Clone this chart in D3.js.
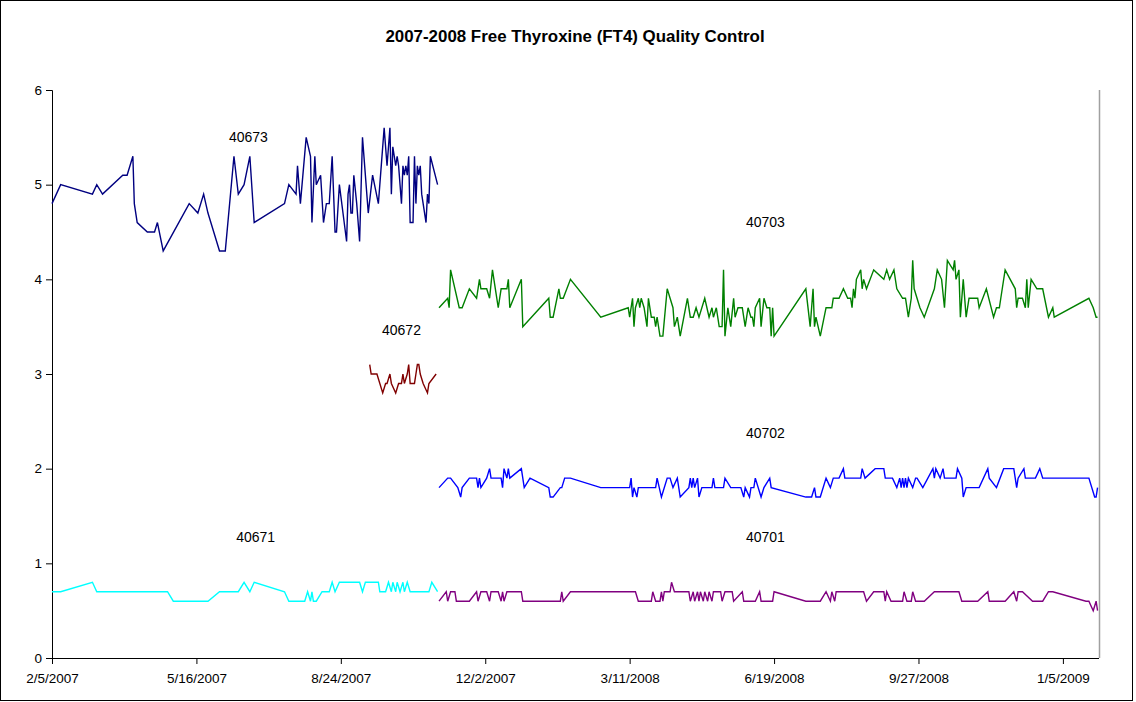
<!DOCTYPE html>
<html>
<head>
<meta charset="utf-8">
<script src="https://cdn.jsdelivr.net/npm/d3@7/dist/d3.min.js"></script>
<style>
  html, body { margin: 0; padding: 0; background: #fff; }
  svg { display: block; font-family: "Liberation Sans", Arial, sans-serif; }
</style>
</head>
<body>
<svg id="chart" width="1136" height="702"></svg>
<script>
// ---------------- DATA ----------------
// Dates are day numbers counted from the first QC run (2/5/2007).
const startDate = "2007-02-05";
const endDate = "2009-01-30";
const chartTitle = "2007-2008 Free Thyroxine (FT4) Quality Control";
const xTickDays = [0, 100, 200, 300, 400, 500, 600, 700];
const xTickLabels = ["2/5/2007", "5/16/2007", "8/24/2007", "12/2/2007", "3/11/2008", "6/19/2008", "9/27/2008", "1/5/2009"];
const yTicks = [0, 1, 2, 3, 4, 5, 6];

const lot40673 = [[0,4.8],[6,5.0],[28,4.9],[31,5.0],[35,4.9],[49,5.1],[52,5.1],[56,5.3],[57,4.8],[59,4.6],[66,4.5],[71,4.5],[73,4.6],[77,4.3],[95,4.8],[101,4.7],[105,4.9],[108,4.7],[116,4.3],[120,4.3],[126,5.3],[129,4.9],[133,5.0],[137,5.3],[140,4.6],[161,4.8],[164,5.0],[169,4.9],[170,5.2],[172,4.8],[176,5.5],[179,5.3],[180,4.6],[182,5.3],[183,5.0],[186,5.1],[188,4.6],[190,4.8],[192,4.8],[194,5.3],[196,4.5],[197,4.5],[199,5.0],[204,4.4],[205,4.9],[206,5.0],[207,4.7],[208,4.7],[209,5.1],[211,4.8],[213,4.4],[215,5.5],[219,4.7],[222,5.1],[226,4.8],[230,5.6],[232,5.2],[234,5.6],[235,4.9],[236,5.4],[237,5.3],[238,5.2],[239,5.3],[240,5.2],[242,4.8],[243,5.2],[244,5.1],[245,5.2],[246,5.1],[247,5.3],[248,4.6],[250,4.6],[251,5.3],[252,4.8],[253,5.2],[254,5.1],[255,5.2],[256,4.9],[259,4.6],[260,4.9],[261,4.8],[262,5.3],[267,5.0]];

const lot40672 = [[220,3.1],[221,3.0],[225,3.0],[229,2.8],[231,2.9],[232,2.9],[234,3.0],[235,2.9],[238,2.8],[240,2.9],[242,2.9],[243,3.0],[244,2.9],[246,3.0],[247,3.1],[248,2.9],[251,2.9],[252,3.0],[253,3.1],[254,3.1],[255,3.0],[257,2.9],[260,2.8],[261,2.9],[266,3.0]];

const lot40671 = [[0,0.7],[6,0.7],[28,0.8],[31,0.7],[80,0.7],[84,0.6],[108,0.6],[116,0.7],[129,0.7],[133,0.8],[137,0.7],[140,0.8],[161,0.7],[164,0.6],[175,0.6],[177,0.7],[179,0.6],[180,0.7],[181,0.6],[183,0.6],[187,0.7],[192,0.7],[194,0.8],[196,0.7],[199,0.8],[213,0.8],[215,0.7],[217,0.8],[226,0.8],[227,0.7],[231,0.7],[233,0.8],[235,0.7],[236,0.8],[238,0.7],[239,0.8],[241,0.7],[243,0.8],[244,0.7],[246,0.8],[248,0.7],[261,0.7],[263,0.8],[267,0.7]];

const lot40703 = [[268,3.7],[274,3.8],[275,3.7],[276,4.1],[282,3.7],[284,3.7],[289,3.9],[294,3.8],[296,4.0],[297,3.9],[301,3.9],[303,3.8],[305,4.1],[307,3.9],[309,3.7],[311,3.9],[315,3.9],[316,4.0],[317,3.7],[325,4.0],[326,3.5],[344,3.8],[345,3.6],[347,3.6],[351,3.9],[352,3.8],[354,3.8],[359,4.0],[380,3.6],[399,3.7],[400,3.6],[402,3.8],[403,3.5],[404,3.7],[406,3.8],[407,3.7],[408,3.8],[410,3.7],[412,3.5],[413,3.8],[415,3.6],[417,3.6],[418,3.5],[419,3.6],[421,3.4],[423,3.4],[426,3.9],[428,3.8],[430,3.7],[431,3.5],[433,3.6],[435,3.4],[440,3.8],[442,3.6],[444,3.6],[446,3.7],[448,3.6],[452,3.8],[455,3.6],[457,3.7],[458,3.6],[460,3.7],[462,3.5],[464,3.5],[465,4.1],[466,3.4],[468,3.7],[470,3.5],[472,3.8],[473,3.6],[475,3.7],[478,3.7],[480,3.5],[482,3.7],[484,3.6],[485,3.6],[486,3.5],[487,3.7],[490,3.8],[491,3.5],[493,3.8],[495,3.7],[497,3.7],[498,3.4],[499,3.7],[500,3.4],[522,3.9],[525,3.5],[527,3.9],[528,3.5],[529,3.6],[532,3.4],[536,3.7],[540,3.7],[541,3.8],[545,3.8],[548,3.9],[551,3.8],[553,3.8],[554,3.7],[555,3.9],[556,3.8],[557,4.0],[560,4.1],[561,3.9],[562,4.0],[564,3.9],[569,4.1],[576,4.0],[578,4.1],[580,4.0],[583,4.1],[585,3.9],[589,3.8],[591,3.8],[593,3.6],[595,3.8],[596,4.2],[597,3.9],[601,3.7],[604,3.6],[611,3.9],[613,4.1],[616,4.0],[618,3.7],[620,4.2],[624,4.1],[625,4.2],[626,4.0],[628,4.1],[629,3.6],[631,4.0],[633,3.6],[635,3.8],[641,3.8],[642,3.7],[647,3.9],[652,3.6],[654,3.7],[656,3.7],[657,3.8],[660,4.1],[667,3.9],[668,3.7],[669,3.8],[672,3.8],[674,3.7],[675,4.0],[676,3.7],[678,4.0],[682,3.9],[686,3.9],[690,3.6],[693,3.7],[694,3.6],[718,3.8],[721,3.7],[723,3.6],[724,3.6]];

const lot40702 = [[268,1.8],[274,1.9],[276,1.9],[281,1.8],[283,1.7],[284,1.8],[289,1.9],[294,1.9],[295,1.8],[296,1.9],[297,1.8],[301,1.9],[303,2.0],[304,1.9],[311,1.9],[312,1.8],[313,2.0],[315,1.9],[316,2.0],[317,1.9],[325,2.0],[327,1.8],[331,1.9],[344,1.8],[345,1.7],[347,1.7],[352,1.8],[353,1.8],[355,1.9],[359,1.9],[380,1.8],[400,1.8],[401,1.9],[402,1.7],[403,1.8],[405,1.7],[406,1.8],[418,1.8],[419,1.9],[422,1.7],[426,1.9],[428,1.9],[430,1.8],[433,1.9],[435,1.7],[441,1.8],[442,1.9],[443,1.8],[444,1.9],[445,1.8],[447,1.9],[448,1.7],[450,1.8],[457,1.8],[458,1.9],[459,1.8],[465,1.8],[466,1.9],[470,1.8],[477,1.8],[479,1.7],[480,1.8],[483,1.7],[484,1.8],[486,1.8],[487,1.9],[491,1.7],[493,1.8],[497,1.9],[498,1.8],[522,1.7],[526,1.7],[528,1.8],[529,1.7],[532,1.7],[536,1.9],[539,1.8],[541,1.9],[545,1.9],[548,2.0],[549,1.9],[560,1.9],[561,2.0],[563,1.9],[570,2.0],[576,2.0],[577,1.9],[582,1.9],[585,1.8],[587,1.9],[588,1.8],[589,1.9],[590,1.8],[591,1.9],[592,1.8],[593,1.9],[596,1.8],[598,1.9],[599,1.9],[603,1.8],[610,2.0],[611,1.9],[612,2.0],[615,1.9],[617,2.0],[618,1.9],[626,1.9],[627,2.0],[630,1.9],[631,1.7],[633,1.8],[642,1.8],[648,2.0],[649,1.9],[654,1.8],[659,2.0],[666,2.0],[668,1.8],[669,1.9],[673,2.0],[674,1.9],[681,1.9],[684,2.0],[686,1.9],[718,1.9],[722,1.7],[723,1.7],[724,1.8]];

const lot40701 = [[268,0.6],[273,0.7],[274,0.6],[276,0.7],[279,0.7],[280,0.6],[289,0.6],[294,0.7],[295,0.6],[297,0.7],[301,0.7],[303,0.6],[304,0.7],[309,0.7],[311,0.6],[312,0.7],[313,0.6],[315,0.7],[325,0.7],[326,0.6],[352,0.6],[353,0.7],[354,0.6],[359,0.7],[404,0.7],[406,0.6],[415,0.6],[416,0.7],[418,0.6],[421,0.6],[422,0.7],[423,0.6],[424,0.7],[428,0.7],[429,0.8],[431,0.7],[441,0.7],[442,0.6],[444,0.7],[445,0.6],[447,0.7],[448,0.6],[449,0.7],[451,0.6],[452,0.7],[454,0.6],[455,0.7],[457,0.6],[458,0.7],[463,0.7],[464,0.6],[466,0.7],[471,0.7],[472,0.6],[478,0.7],[479,0.6],[487,0.6],[490,0.7],[491,0.6],[499,0.6],[500,0.7],[522,0.6],[532,0.6],[536,0.7],[539,0.6],[540,0.7],[542,0.6],[543,0.7],[562,0.7],[564,0.6],[569,0.7],[576,0.7],[577,0.6],[578,0.7],[581,0.6],[589,0.6],[590,0.7],[592,0.6],[595,0.6],[596,0.7],[598,0.6],[604,0.6],[611,0.7],[628,0.7],[630,0.6],[641,0.6],[648,0.7],[649,0.6],[660,0.6],[666,0.7],[668,0.6],[669,0.7],[672,0.7],[679,0.6],[686,0.6],[690,0.7],[693,0.7],[716,0.6],[718,0.6],[721,0.5],[723,0.6],[724,0.5]];

const seriesNames = ["40673", "40672", "40671", "40703", "40702", "40701"];
const seriesData = [lot40673, lot40672, lot40671, lot40703, lot40702, lot40701];
const seriesColors = ["#000080", "#800000", "#00FFFF", "#008000", "#0000FF", "#800080"];
// label anchor for each lot, in data units [day, value]
const labelAnchors = [[136, 5.50], [242, 3.46], [141, 1.28], [494, 4.61], [494, 2.38], [494, 1.28]];

// ---------------- CHART ----------------
const W = 1136, H = 702;
const plot = { left: 52, right: 1099, top: 90, bottom: 658 };
const svg = d3.select("#chart");
const DAY = 864e5;
const t0 = new Date(startDate + "T00:00:00Z").getTime();
const toDate = d => new Date(t0 + d * DAY);
const FONT = "Liberation Sans, Arial, sans-serif";

const x = d3.scaleUtc().domain([toDate(0), new Date(endDate + "T00:00:00Z")]).range([plot.left, plot.right]);
const y = d3.scaleLinear().domain([0, 6]).range([plot.bottom, plot.top]);

// outer frame
svg.append("rect").attr("x", 0.5).attr("y", 0.5).attr("width", W - 4).attr("height", H - 2)
  .attr("fill", "#fff").attr("stroke", "#000").attr("stroke-width", 1);

// plot area right border
svg.append("line").attr("x1", plot.right + 0.5).attr("x2", plot.right + 0.5)
  .attr("y1", plot.top).attr("y2", plot.bottom).attr("stroke", "#a0a0a0").attr("stroke-width", 1.5);

// title
svg.append("text").attr("x", 575).attr("y", 42).attr("text-anchor", "middle")
  .attr("font-size", 16.9).attr("font-weight", "bold").attr("font-family", FONT).text(chartTitle);

// y axis
const yAxis = d3.axisLeft(y).tickValues(yTicks).tickSize(6).tickFormat(d3.format("d"));
const gy = svg.append("g").attr("transform", `translate(${plot.left},0)`).call(yAxis);
gy.select(".domain").attr("stroke", "#000");
gy.selectAll(".tick text").attr("font-size", 13.5).attr("font-family", FONT).attr("fill", "#000").attr("dx", -1);

// x axis
const xAxis = d3.axisBottom(x).tickValues(xTickDays.map(toDate)).tickSize(6)
  .tickFormat((d, i) => xTickLabels[i]);
const gx = svg.append("g").attr("transform", `translate(0,${plot.bottom})`).call(xAxis);
gx.select(".domain").attr("stroke", "#000").attr("d", `M${plot.left},0.5H${plot.right}`);
gx.selectAll(".tick text").attr("font-size", 13.5).attr("font-family", FONT).attr("fill", "#000").attr("dy", "1.15em");

// lines
const line = d3.line().x(p => x(toDate(p[0]))).y(p => y(p[1]));
seriesData.forEach((s, i) => {
  svg.append("path").datum(s).attr("d", line).attr("fill", "none")
    .attr("stroke", seriesColors[i]).attr("stroke-width", 1.4).attr("stroke-linejoin", "miter");
});

// lot labels
seriesNames.forEach((name, i) => {
  const a = labelAnchors[i];
  svg.append("text").attr("x", x(toDate(a[0]))).attr("y", y(a[1]))
    .attr("text-anchor", "middle").attr("dominant-baseline", "central")
    .attr("font-size", 14).attr("font-family", FONT).attr("fill", "#000").text(name);
});
</script>
</body>
</html>
